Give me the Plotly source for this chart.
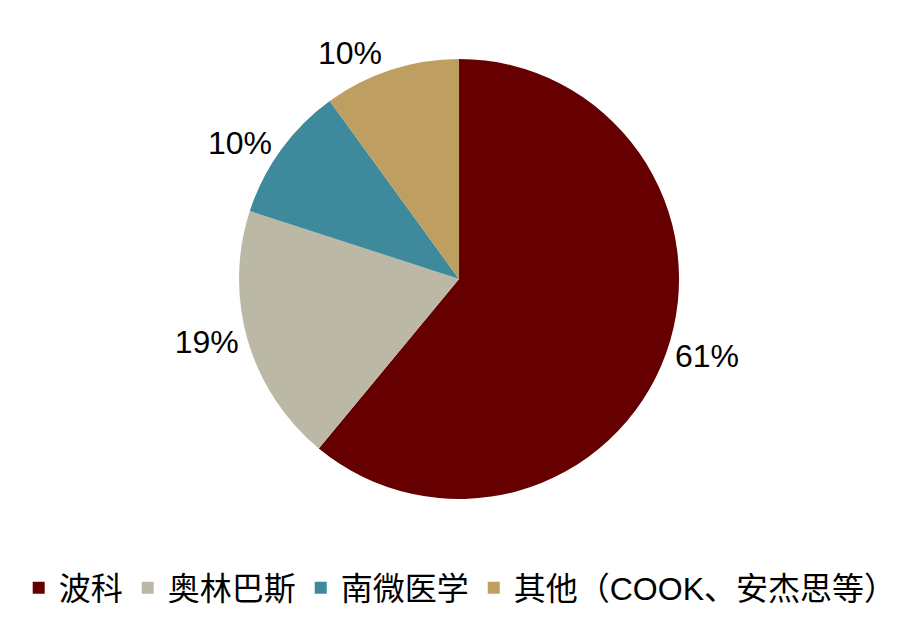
import plotly.graph_objects as go

labels = ["波科", "奥林巴斯", "南微医学", "其他（COOK、安杰思等）"]
shares = [61, 19, 10, 10]
colors = ["#660000", "#bbb9a6", "#3e899b", "#bf9f61"]

# the page body keeps an 8px margin, so the figure is 8px smaller and
# everything below is laid out in figure coords (reference - 8)
fig = go.Figure()
fig.add_trace(go.Pie(
    labels=labels,
    values=shares,
    sort=False,
    direction="clockwise",
    rotation=0,
    domain=dict(x=[0.0034, 1.0], y=[0, 1]),
    marker=dict(colors=colors, line=dict(width=0)),
    textinfo="percent",
    textposition="outside",
    textfont=dict(size=32, color="black"),
    hoverinfo="label+percent",
))

fig.update_layout(
    width=899,
    height=612,
    paper_bgcolor="white",
    plot_bgcolor="white",
    font=dict(family="Liberation Sans, Arial, Noto Sans CJK SC", color="black"),
    margin=dict(l=0, r=0, t=51, b=121, autoexpand=False),
    showlegend=True,
    legend=dict(
        orientation="h",
        x=0.503, xanchor="center",
        y=-0.202, yanchor="middle",
        font=dict(size=32, color="black"),
        itemclick=False,
        traceorder="normal",
    ),
)

fig.write_html("out.html")
